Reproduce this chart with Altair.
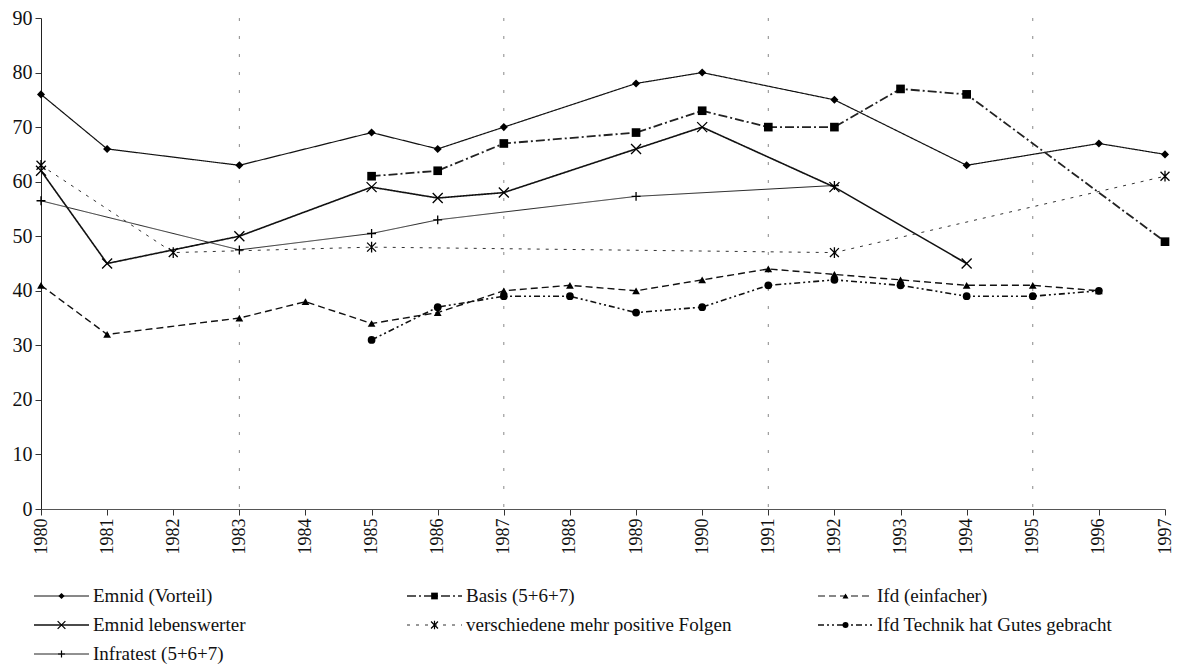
import altair as alt
import pandas as pd

# ---- data ----
series_names = [
    "Emnid (Vorteil)",
    "Basis (5+6+7)",
    "Ifd (einfacher)",
    "Emnid lebenswerter",
    "verschiedene mehr positive Folgen",
    "Ifd Technik hat Gutes gebracht",
    "Infratest (5+6+7)",
]

years_emnid_vorteil = [1980, 1981, 1983, 1985, 1986, 1987, 1989, 1990, 1992, 1994, 1996, 1997]
vals_emnid_vorteil = [76, 66, 63, 69, 66, 70, 78, 80, 75, 63, 67, 65]

years_basis = [1985, 1986, 1987, 1989, 1990, 1991, 1992, 1993, 1994, 1997]
vals_basis = [61, 62, 67, 69, 73, 70, 70, 77, 76, 49]

years_ifd_einfacher = [1980, 1981, 1983, 1984, 1985, 1986, 1987, 1988, 1989, 1990, 1991, 1992, 1993, 1994, 1995, 1996]
vals_ifd_einfacher = [41, 32, 35, 38, 34, 36, 40, 41, 40, 42, 44, 43, 42, 41, 41, 40]

years_emnid_lebenswerter = [1980, 1981, 1983, 1985, 1986, 1987, 1989, 1990, 1992, 1994]
vals_emnid_lebenswerter = [62, 45, 50, 59, 57, 58, 66, 70, 59, 45]

years_verschiedene = [1980, 1982, 1985, 1992, 1997]
vals_verschiedene = [63, 47, 48, 47, 61]

years_ifd_technik = [1985, 1986, 1987, 1988, 1989, 1990, 1991, 1992, 1993, 1994, 1995, 1996]
vals_ifd_technik = [31, 37, 39, 39, 36, 37, 41, 42, 41, 39, 39, 40]

years_infratest = [1980, 1983, 1985, 1986, 1989, 1992]
vals_infratest = [56.5, 47.5, 50.5, 53, 57.3, 59.3]

year_ticks = list(range(1980, 1998))
y_ticks = list(range(0, 100, 10))
grid_years = [1983, 1987, 1991, 1995]

# legend layout (column / row of each entry)
legend_cols = [0, 1, 2, 0, 1, 2, 0]
legend_rows = [0, 0, 0, 1, 1, 1, 2]

series_data = [
    (years_emnid_vorteil, vals_emnid_vorteil),
    (years_basis, vals_basis),
    (years_ifd_einfacher, vals_ifd_einfacher),
    (years_emnid_lebenswerter, vals_emnid_lebenswerter),
    (years_verschiedene, vals_verschiedene),
    (years_ifd_technik, vals_ifd_technik),
    (years_infratest, vals_infratest),
]

rows = []
for name, (ys, vs) in zip(series_names, series_data):
    for y, v in zip(ys, vs):
        rows.append({"series": name, "year": y, "value": v})
df = pd.DataFrame(rows)

X_PATH = "M-1,-1L1,1M-1,1L1,-1"
STAR_PATH = "M-1,-1L1,1M-1,1L1,-1M0,-1.2L0,1.2"
PLUS_PATH = "M-1,0L1,0M0,-1L0,1"

styles = {
    "Emnid (Vorteil)": dict(dash=[1, 0], width=1.2, shape="diamond", filled=True, size=65, color="#111"),
    "Basis (5+6+7)": dict(dash=[9, 3, 2, 3], width=1.8, shape="square", filled=True, size=75, color="#222"),
    "Ifd (einfacher)": dict(dash=[7, 4], width=1.4, shape="triangle-up", filled=True, size=60, color="#111"),
    "Emnid lebenswerter": dict(dash=[1, 0], width=1.6, shape=X_PATH, filled=False, size=100, color="#111"),
    "verschiedene mehr positive Folgen": dict(dash=[3, 6], width=1.0, shape=STAR_PATH, filled=False, size=80, color="#333"),
    "Ifd Technik hat Gutes gebracht": dict(dash=[6, 3, 2, 3, 2, 3], width=1.6, shape="circle", filled=True, size=60, color="#111"),
    "Infratest (5+6+7)": dict(dash=[1, 0], width=1.0, shape=PLUS_PATH, filled=False, size=80, color="#222"),
}

FONT = "Liberation Serif"
W = 1124
H = 491

x_scale = alt.Scale(domain=[1980, 1997], nice=False, zero=False)
x_enc = alt.X(
    "year:Q",
    scale=x_scale,
    axis=alt.Axis(values=year_ticks, format="d", labelAngle=-90, title=None, grid=False,
                  labelFontSize=18, labelFont=FONT, labelColor="#111", tickColor="#333",
                  domainColor="#555", tickSize=6, labelPadding=3, labelFlush=False),
)
y_enc = alt.Y(
    "value:Q",
    scale=alt.Scale(domain=[0, 90], nice=False),
    axis=alt.Axis(values=y_ticks, title=None, grid=False, labelFontSize=20, labelFont=FONT,
                  labelColor="#111", tickColor="#333", domainColor="#222", tickSize=6, labelPadding=3),
)

base = alt.Chart(df)

grid_df = pd.DataFrame({"year": grid_years})
grid = alt.Chart(grid_df).mark_rule(color="#888", strokeDash=[3, 15], strokeWidth=1).encode(
    x=alt.X("year:Q", scale=x_scale),
    y=alt.value(0),
    y2=alt.value(H),
)

layers = [grid]
for name in series_names:
    s = styles[name]
    sub = base.transform_filter(alt.datum.series == name)
    layers.append(
        sub.mark_line(color=s["color"], strokeDash=s["dash"], strokeWidth=s["width"]).encode(x=x_enc, y=y_enc)
    )
for name in series_names:
    s = styles[name]
    sub = base.transform_filter(alt.datum.series == name)
    if s["filled"]:
        pt = sub.mark_point(shape=s["shape"], filled=True, color="#000", size=s["size"], opacity=1)
    else:
        pt = sub.mark_point(shape=s["shape"], filled=False, color="#000", size=s["size"],
                            strokeWidth=1.3, opacity=1)
    layers.append(pt.encode(x=x_enc, y=y_enc))

main = alt.layer(*layers).properties(width=W, height=H)

# ---- legend panel (pixel layout relative to the plot's left edge) ----
COL_START = [-7, 366, 777]
SEG = 55
TEXT_GAP = 4
leg_df = pd.DataFrame({
    "series": series_names,
    "col": legend_cols,
    "row": legend_rows,
})
leg_df["x0"] = [COL_START[c] for c in leg_df["col"]]
leg_df["x1"] = leg_df["x0"] + SEG
leg_df["xm"] = leg_df["x0"] + SEG / 2
leg_df["xt"] = leg_df["x1"] + TEXT_GAP

lx_scale = alt.Scale(domain=[0, W], nice=False, zero=False)
ly_scale = alt.Scale(domain=[0, 2], reverse=True, nice=False, zero=False)
leg_base = alt.Chart(leg_df)
leg_layers = []
for name in series_names:
    s = styles[name]
    sub = leg_base.transform_filter(alt.datum.series == name)
    leg_layers.append(
        sub.mark_rule(color=s["color"], strokeDash=s["dash"],
                      strokeWidth=max(1.0, s["width"] - 0.2)).encode(
            x=alt.X("x0:Q", scale=lx_scale, axis=None),
            x2="x1:Q",
            y=alt.Y("row:Q", scale=ly_scale, axis=None),
        )
    )
    if s["filled"]:
        pt = sub.mark_point(shape=s["shape"], filled=True, color="#000", size=s["size"] * 0.6, opacity=1)
    else:
        pt = sub.mark_point(shape=s["shape"], filled=False, color="#000", size=s["size"] * 0.6,
                            strokeWidth=1.2, opacity=1)
    leg_layers.append(pt.encode(
        x=alt.X("xm:Q", scale=lx_scale, axis=None),
        y=alt.Y("row:Q", scale=ly_scale, axis=None),
    ))
leg_layers.append(
    leg_base.mark_text(align="left", baseline="middle", font=FONT, fontSize=19, color="#111").encode(
        x=alt.X("xt:Q", scale=lx_scale, axis=None),
        y=alt.Y("row:Q", scale=ly_scale, axis=None),
        text="series:N",
    )
)
legend = alt.layer(*leg_layers).properties(width=W, height=58)

chart = alt.vconcat(main, legend, spacing=33).resolve_scale(x="independent", y="independent").properties(
    padding={"left": 4, "top": 0, "right": 0, "bottom": 0}
).configure_view(stroke=None).configure_axis(labelFont=FONT)

chart.save("out.html", embed_options={"renderer": "svg", "actions": False})
